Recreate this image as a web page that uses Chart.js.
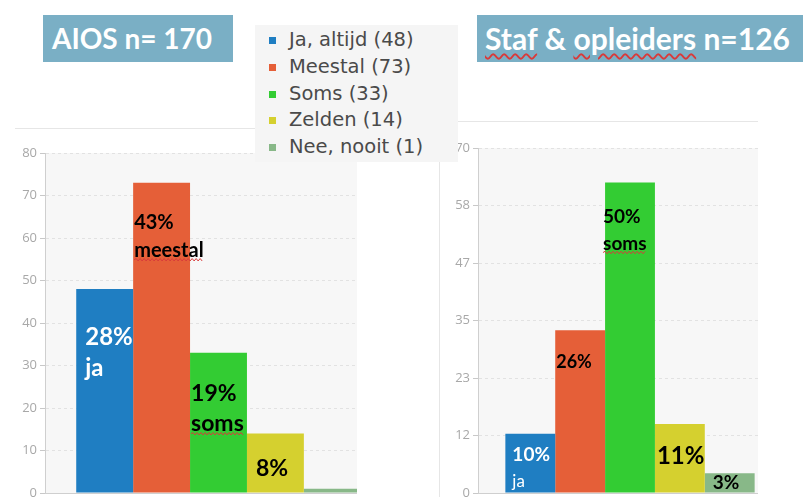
<!DOCTYPE html>
<html lang="nl">
<head>
<meta charset="utf-8">
<title>AIOS en staf &amp; opleiders</title>
<script src="https://cdn.jsdelivr.net/npm/chart.js@4.4.1/dist/chart.umd.min.js"></script>
<style>
  html, body { margin: 0; padding: 0; background: #fff; }
  body { width: 806px; height: 497px; position: relative; overflow: hidden; }
  .title {
    position: absolute; top: 15px; height: 47px; line-height: 47px;
    background: #7aafc5; color: #fff; white-space: nowrap;
    font-family: Lato, "Open Sans", sans-serif; font-weight: 700; font-size: 28px;
    box-sizing: border-box;
  }
  .spell { text-decoration: underline wavy #d83a3a; text-decoration-thickness: 1.5px; text-underline-offset: 3px; }
  .panel { position: absolute; overflow: hidden; }
  .panel canvas { position: absolute; left: 0; top: 0; }
  .rule { position: absolute; background: #e6e6e6; }
  #legend {
    position: absolute; left: 255px; top: 25px; width: 203px; height: 137px;
    background: #f5f5f5; box-sizing: border-box; padding: 2px 0 0 14px;
    font-family: "DejaVu Sans", sans-serif; font-size: 19.5px; color: #4a4a4a;
  }
  #legend .row { height: 26.75px; line-height: 26.75px; white-space: nowrap; }
  #legend .sw { display: inline-block; width: 7px; height: 7px; margin-right: 13px; vertical-align: 2px; }
</style>
</head>
<body>

<div class="title" style="left:43px; width:190px; padding-left:9px;">AIOS n= 170</div>
<div class="title" style="left:477px; width:326px; padding-left:8px; font-size:30px;"><span class="spell">Staf</span> &amp; <span class="spell">opleiders</span> n=126</div>

<div class="rule" style="left:15px; top:128px; width:342px; height:1px;"></div>
<div class="panel" style="left:15px; top:128px; width:342px; height:369px;">
  <canvas id="aiosChart" width="380" height="385" style="width:380px;height:385px;"></canvas>
</div>

<div class="rule" style="left:439px; top:121px; width:319px; height:1px;"></div>
<div class="rule" style="left:439px; top:121px; width:1px; height:376px;"></div>
<div class="panel" style="left:439px; top:121px; width:319px; height:376px;">
  <canvas id="stafChart" width="346" height="392" style="width:346px;height:392px;"></canvas>
</div>

<div id="legend"></div>

<script>
// Answer categories and the number of respondents per answer
const categories = ['Ja, altijd', 'Meestal', 'Soms', 'Zelden', 'Nee, nooit'];
const shortWords = ['ja', 'meestal', 'soms', 'zelden', 'nee'];

const aiosN = 170;
const aiosCounts = [48, 73, 33, 14, 1];
const aiosTickLabels = ['0', '10', '20', '30', '40', '50', '60', '70', '80'];

const stafN = 126;
const stafCounts = [12, 33, 63, 14, 4];
const stafTickLabels = ['0', '12', '23', '35', '47', '58', '70'];

const barColors = ['#1f7ec2', '#e55f38', '#33cc33', '#d5d02f', '#88b888'];

// Legend (counts of the AIOS group)
const legendEl = document.getElementById('legend');
categories.forEach((c, i) => {
  const row = document.createElement('div');
  row.className = 'row';
  const sw = document.createElement('span');
  sw.className = 'sw';
  sw.style.background = barColors[i];
  row.appendChild(sw);
  row.appendChild(document.createTextNode(c + ' (' + aiosCounts[i] + ')'));
  legendEl.appendChild(row);
});

const pct = (v, n) => Math.round(v / n * 100) + '%';

// Styling of the callouts written on the bars (null = no callout)
// dx: offset from bar's left edge, dy: first baseline below bar top, gap: line spacing
const aiosCallouts = [
  { dx: 9, dy: 56, gap: 31, color: '#fff', size: 24, word: true, wordBold: true, wordSize: 24 },
  { dx: 1, dy: 46, gap: 28, color: '#000', size: 20, word: true, wordBold: true, wordSize: 20, spell: true },
  { dx: 1, dy: 48, gap: 30, color: '#000', size: 23, word: true, wordBold: true, wordSize: 23, spell: true },
  { dx: 9, dy: 42, color: '#000', size: 23 },
  null
];
const stafCallouts = [
  { dx: 7, dy: 27, gap: 26, color: '#fff', size: 19, word: true, wordBold: false, wordSize: 17 },
  { dx: 1, dy: 38, color: '#000', size: 18 },
  { dx: -2, dy: 40, gap: 27, color: '#000', size: 19, word: true, wordBold: true, wordSize: 19, spell: true },
  { dx: 2, dy: 40, color: '#000', size: 24 },
  { dx: 8, dy: 16, color: '#000', size: 19 }
];

function wavy(ctx, x1, x2, y) {
  ctx.save();
  ctx.strokeStyle = '#d83a3a';
  ctx.lineWidth = 1;
  ctx.beginPath();
  let up = true;
  ctx.moveTo(x1, y);
  for (let x = x1 + 2; x <= x2; x += 2) {
    ctx.lineTo(x, y + (up ? -1.2 : 1.2));
    up = !up;
  }
  ctx.stroke();
  ctx.restore();
}

const calloutPlugin = {
  id: 'callouts',
  afterDatasetsDraw(chart, args, opts) {
    const ctx = chart.ctx;
    opts.specs.forEach((spec, i) => {
      if (!spec) return;
      const bar = chart.getDatasetMeta(i).data[0];
      const left = bar.x - bar.width / 2 + spec.dx;
      const top = bar.y;
      ctx.save();
      ctx.fillStyle = spec.color;
      ctx.textBaseline = 'alphabetic';
      ctx.textAlign = 'left';
      ctx.font = '700 ' + spec.size + 'px Lato, sans-serif';
      ctx.fillText(pct(opts.counts[i], opts.n), left, top + spec.dy);
      if (spec.word) {
        const w = shortWords[i];
        ctx.font = (spec.wordBold ? '700 ' : '400 ') + spec.wordSize + 'px Lato, sans-serif';
        const y2 = top + spec.dy + spec.gap;
        ctx.fillText(w, left, y2);
        if (spec.spell) wavy(ctx, left, left + ctx.measureText(w).width, y2 + 3);
      }
      ctx.restore();
    });
  }
};

const plotBackground = {
  id: 'plotBackground',
  beforeDraw(chart) {
    const a = chart.chartArea;
    chart.ctx.save();
    chart.ctx.fillStyle = '#f7f7f7';
    chart.ctx.fillRect(a.left, a.top, a.right - a.left, a.bottom - a.top);
    chart.ctx.restore();
  }
};

function makeChart(id, counts, n, tickLabels, yMax, axisWidth, pad, callouts) {
  return new Chart(document.getElementById(id), {
    type: 'bar',
    data: {
      labels: [''],
      datasets: categories.map((c, i) => ({
        label: c + ' (' + counts[i] + ')',
        data: [counts[i]],
        backgroundColor: barColors[i],
        borderWidth: 0,
        categoryPercentage: 0.82,
        barPercentage: 1
      }))
    },
    options: {
      responsive: false,
      animation: false,
      events: [],
      layout: { padding: pad },
      plugins: {
        legend: { display: false },
        tooltip: { enabled: false },
        callouts: { specs: callouts, counts: counts, n: n }
      },
      scales: {
        x: {
          ticks: { display: false },
          grid: { display: false, drawTicks: false },
          border: { display: true, color: '#cfcfcf' },
          afterFit(s) { s.height = 0; }
        },
        y: {
          min: 0,
          max: yMax,
          afterBuildTicks(s) {
            s.ticks = tickLabels.map((_, i) => ({ value: yMax * i / (tickLabels.length - 1) }));
          },
          afterFit(s) { s.width = axisWidth; },
          ticks: {
            padding: 3,
            color: '#a8a8a8',
            font: { family: '"Open Sans", sans-serif', size: 13 },
            callback: (v, i) => tickLabels[i]
          },
          grid: { color: '#e2e2e2', tickColor: '#c8c8c8', tickLength: 5 },
          border: { display: true, color: '#cfcfcf', dash: [3, 3] }
        }
      }
    },
    plugins: [plotBackground, calloutPlugin]
  });
}

makeChart('aiosChart', aiosCounts, aiosN, aiosTickLabels, 80, 30,
  { top: 25, left: 0, right: 3, bottom: 20 }, aiosCallouts);
makeChart('stafChart', stafCounts, stafN, stafTickLabels, 70, 39,
  { top: 27, left: 0, right: 3, bottom: 20 }, stafCallouts);
</script>
</body>
</html>
